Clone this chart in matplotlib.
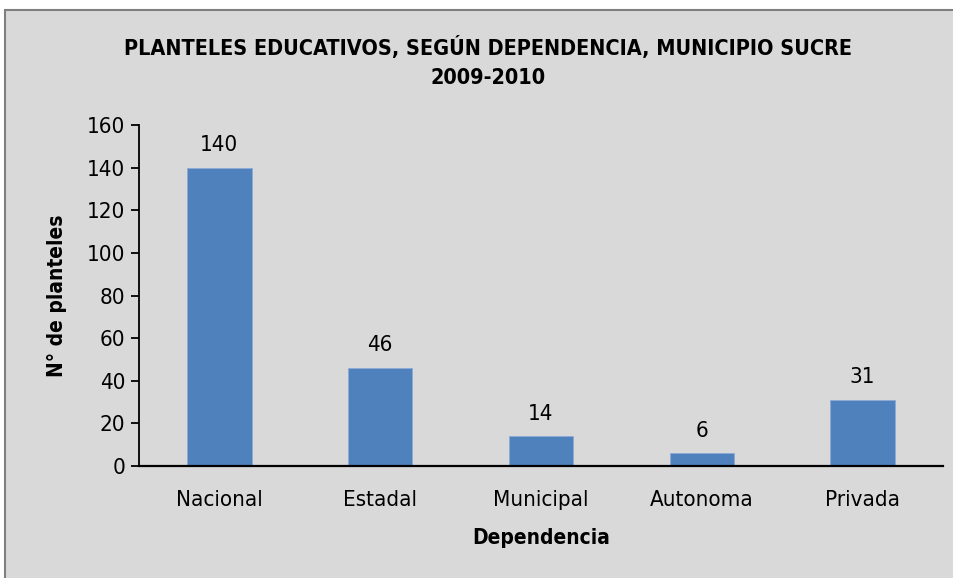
import matplotlib.pyplot as plt
from matplotlib.patches import Rectangle

# Planteles por dependencia, 2009-2010
dependencias = ["Nacional", "Estadal", "Municipal", "Autonoma", "Privada"]
planteles = [140, 46, 14, 6, 31]
y_ticks = [0, 20, 40, 60, 80, 100, 120, 140, 160]

plt.rcParams['font.family'] = ['DejaVu Sans']
plt.rcParams['font.stretch'] = 'condensed'

fig = plt.figure(figsize=(9.54, 5.78), dpi=100, facecolor='white')

# chart area background with frame
fig.patches.append(Rectangle((5 / 954, -0.01), 1.0, 1 - 10 / 578 + 0.01,
                             transform=fig.transFigure, facecolor='#D9D9D9',
                             edgecolor='#7F7F7F', linewidth=1.5, zorder=-10))

ax = fig.add_axes([139 / 954, 1 - 466 / 578, (943 - 139) / 954, (466 - 125) / 578])
ax.set_facecolor('none')
ax.set_zorder(5)

x = range(len(dependencias))
bars = ax.bar(x, planteles, width=0.4, color='#4F81BD', edgecolor='#8EAAD6', linewidth=0.6)

for xi, v in zip(x, planteles):
    ax.annotate(str(v), (xi, v), xytext=(0, 9), textcoords='offset points',
                ha='center', va='bottom', fontsize=16)

ax.set_xlim(-0.5, len(dependencias) - 0.5)
ax.set_ylim(0, 160)
ax.set_yticks(y_ticks)
ax.tick_params(axis='y', labelsize=16, length=6, width=1.3, pad=4)
ax.set_xticks(list(x))
ax.set_xticklabels(dependencias, fontsize=16)
ax.tick_params(axis='x', length=0, pad=17)

for side in ['top', 'right']:
    ax.spines[side].set_visible(False)
ax.spines['left'].set_linewidth(1.3)
ax.spines['bottom'].set_linewidth(1.6)

ax.set_ylabel("N° de planteles", fontsize=15, fontweight='bold', labelpad=14)
ax.set_xlabel("Dependencia", fontsize=15, fontweight='bold', labelpad=13)

fig.text(488 / 954, 1 - 47 / 578, "PLANTELES EDUCATIVOS, SEGÚN DEPENDENCIA, MUNICIPIO SUCRE",
         ha='center', va='center', fontsize=15.5, fontweight='bold')
fig.text(488 / 954, 1 - 78 / 578, "2009-2010",
         ha='center', va='center', fontsize=15.5, fontweight='bold')

fig.savefig("out.png", dpi=100, facecolor=fig.get_facecolor())
